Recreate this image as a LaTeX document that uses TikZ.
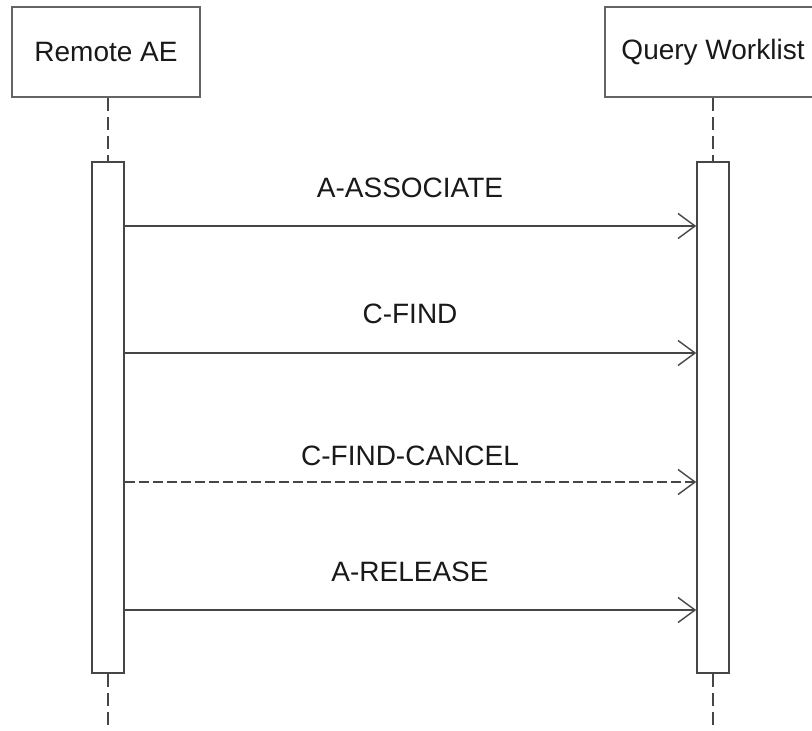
\documentclass[tikz,border=0pt]{standalone}
\usepackage{fontspec}
\setmainfont{Liberation Sans}
\usetikzlibrary{arrows.meta}

\definecolor{linegray}{RGB}{70,70,70}
\definecolor{boxgray}{RGB}{100,100,100}

\tikzset{
    actor/.style={draw=boxgray, line width=2pt, fill=white, minimum width=188pt, minimum height=90pt, inner sep=0pt},
    bar/.style={draw=linegray, line width=1.6pt, fill=white, minimum width=32pt, minimum height=511pt, inner sep=0pt},
    lifeline/.style={draw=linegray, line width=1.6pt, dash pattern=on 13pt off 6pt},
    msg/.style={draw=linegray, line width=1.4pt, -{Straight Barb[length=17pt, width=25pt, line width=1.4pt]}},
    msglabel/.style={anchor=base, inner sep=0pt, text=black!90}
}

\begin{document}
\begin{tikzpicture}[x=1pt, y=-1pt, font=\fontsize{28}{33}\selectfont]
    \clip (0,0) rectangle (812,731);
    \useasboundingbox (0,0) rectangle (812,731);

    % Actors
    \node[actor, text=black!90] (remote) at (106,52) {Remote AE};
    \node[actor, text=black!90, minimum width=216pt] (query) at (713,52) {Query Worklist};

    % Activation bars
    \node[bar] (remotebar) at (108,417.5) {};
    \node[bar] (querybar) at (713,417.5) {};

    % Lifelines
    \draw[lifeline] (remote.south -| remotebar) -- (remotebar.north);
    \draw[lifeline] (remotebar.south) -- (remotebar.south |- 0,731);
    \draw[lifeline] (query.south) -- (querybar.north);
    \draw[lifeline] (querybar.south) -- (querybar.south |- 0,731);

    % Messages
    \draw[msg] (remotebar.east |- 0,226) -- (querybar.west |- 0,226);
    \node[msglabel] (assoc) at (410,197) {A-ASSOCIATE};

    \draw[msg] (remotebar.east |- 0,353) -- (querybar.west |- 0,353);
    \node[msglabel] (find) at (410,323) {C-FIND};

    \draw[msg, dash pattern=on 10pt off 4pt] (remotebar.east |- 0,482) -- (querybar.west |- 0,482);
    \node[msglabel] (cancel) at (410,465) {C-FIND-CANCEL};

    \draw[msg] (remotebar.east |- 0,610) -- (querybar.west |- 0,610);
    \node[msglabel] (release) at (410,581) {A-RELEASE};
\end{tikzpicture}
\end{document}
